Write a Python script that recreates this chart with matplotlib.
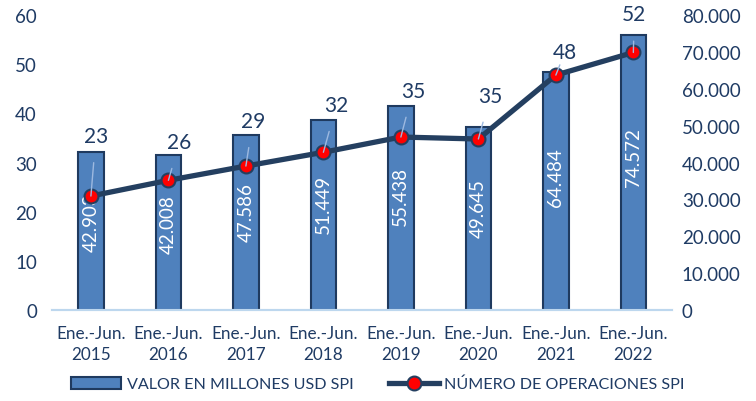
import matplotlib.pyplot as plt
import numpy as np

plt.rcParams['font.family'] = ['Lato', 'DejaVu Sans']

# data
categorias = ["Ene.-Jun.\n2015", "Ene.-Jun.\n2016", "Ene.-Jun.\n2017", "Ene.-Jun.\n2018",
              "Ene.-Jun.\n2019", "Ene.-Jun.\n2020", "Ene.-Jun.\n2021", "Ene.-Jun.\n2022"]
valor_usd = [42903, 42008, 47586, 51449, 55438, 49645, 64484, 74572]
num_operaciones = [23.2, 26.4, 29.3, 32.1, 35.2, 34.8, 47.8, 52.4]
etiquetas_ops = ["23", "26", "29", "32", "35", "35", "48", "52"]
# label offsets (pixels) for the line labels
offs_x = [5, 11, 7, 13, 12, 12, 9, 1]
offs_y = [60, 38, 45, 47, 46, 43, 23, 38]

txt_color = '#1F3B64'
bar_color = '#4F81BD'
bar_edge = '#1F3A5F'
line_color = '#243F60'

fig = plt.figure(figsize=(7.56, 4.02), dpi=100)
ax = fig.add_axes([0.069, 0.226, 0.82, 0.734])
ax2 = ax.twinx()

x = np.arange(len(categorias))

# bars on the right axis
ax2.bar(x, valor_usd, width=0.33, color=bar_color, edgecolor=bar_edge, linewidth=1.5,
        label="VALOR EN MILLONES USD SPI")
for xi, v in zip(x, valor_usd):
    ax2.text(xi, v * 0.56, f"{v:,}".replace(",", "."), rotation=90, ha='center', va='center',
             color='white', fontsize=13.5)
ax2.set_ylim(0, 80000)
ax2.set_yticks(np.arange(0, 80001, 10000))
ax2.set_yticklabels([f"{t:,}".replace(",", ".") for t in range(0, 80001, 10000)])

# line on the left axis
ax.plot(x, num_operaciones, color=line_color, lw=3.8, marker='o', markersize=10,
        markerfacecolor='red', markeredgecolor=line_color, markeredgewidth=1.5,
        label="NÚMERO DE OPERACIONES SPI", zorder=3)
for xi, v, lab, dx, dy in zip(x, num_operaciones, etiquetas_ops, offs_x, offs_y):
    ax.annotate(lab, xy=(xi, v), xytext=(dx, dy), textcoords='offset pixels',
                ha='center', va='center', fontsize=15, color=txt_color,
                arrowprops=dict(arrowstyle='-', color='#9DB9E0', lw=1,
                                shrinkA=10, shrinkB=0), zorder=4)
ax.set_ylim(0, 60)
ax.set_yticks(range(0, 61, 10))
ax.set_xlim(-0.5, len(categorias) - 0.5)
ax.set_xticks(x)
ax.set_xticklabels(categorias, linespacing=1.35)

ax.set_zorder(ax2.get_zorder() + 1)
ax.patch.set_visible(False)

for a in (ax, ax2):
    for s in ('top', 'left', 'right'):
        a.spines[s].set_visible(False)
    a.spines['bottom'].set_color('#BDD7EE')
    a.spines['bottom'].set_linewidth(1.5)
    a.tick_params(length=0, colors=txt_color, labelsize=13.5)
ax.tick_params(axis='y', pad=11)
ax.tick_params(axis='x', pad=11, labelsize=12.3)
ax2.tick_params(axis='y', pad=7)

h1, l1 = ax2.get_legend_handles_labels()
h2, l2 = ax.get_legend_handles_labels()
fig.legend(h1 + h2, l1 + l2, loc='center', bbox_to_anchor=(0.5, 0.042), ncol=2,
           frameon=False, fontsize=11.6, labelcolor=txt_color, handlelength=3.1,
           handleheight=0.8, handletextpad=0.35, columnspacing=2.2)

fig.savefig('out.png', dpi=100)
